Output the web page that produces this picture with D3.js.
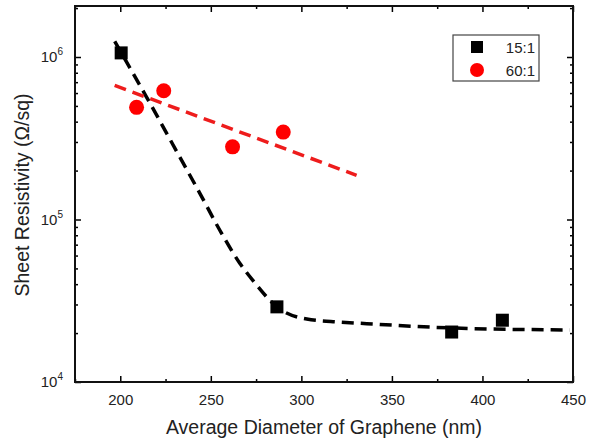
<!DOCTYPE html>
<html>
<head>
<meta charset="utf-8">
<script src="https://cdn.jsdelivr.net/npm/d3@7"></script>
<style>
  body { margin: 0; background: #fff; }
  svg { font-family: "Liberation Sans", Arial, sans-serif; }
</style>
</head>
<body>
<svg id="drawing_region"></svg>
<script>
// measured points
const diam_15 = [200.5, 286.5, 383, 411];
const res_15 = [1.06e6, 2.9e4, 2.03e4, 2.4e4];
const diam_60 = [209, 224, 262, 290];
const res_60 = [4.9e5, 6.2e5, 2.8e5, 3.45e5];

// guide curves
const fit15_x = [196.9, 214.5, 232.8, 243.8, 254.9, 265.9, 273.1, 286.5, 303, 321.2, 340.5, 383, 448.2];
const fit15_y = [1.25e6, 5.67e5, 2.43e5, 1.46e5, 8.62e4, 5.4e4, 4.24e4, 2.9e4, 2.44e4, 2.34e4, 2.27e4, 2.15e4, 2.09e4];
const fit60_x = [196.9, 330.5];
const fit60_y = [6.68e5, 1.87e5];

const x_ticks = [200, 250, 300, 350, 400, 450];
const y_ticks = [1e4, 1e5, 1e6];

const config = {
    width: 596,
    height: 440,
    margin: {top: 6, right: 23, bottom: 58, left: 75}
};

const svg = d3.select('#drawing_region')
    .attr('width', config.width)
    .attr('height', config.height);

const inner_width = config.width - config.margin.left - config.margin.right;
const inner_height = config.height - config.margin.top - config.margin.bottom;

const chart = svg.append('g')
    .attr('transform', `translate(${config.margin.left}, ${config.margin.top})`);

const xscale = d3.scaleLinear().domain([175, 450]).range([0, inner_width]);
const yscale = d3.scaleLog().domain([1e4, 2.06e6]).range([inner_height, 0]);

// minor ticks
const x_minor = d3.range(175, 451, 25).filter(v => x_ticks.indexOf(v) < 0);
const y_minor = [];
[1e4, 1e5, 1e6].forEach(d => { for (let k = 2; k <= 9; k++) if (d * k <= 2.06e6) y_minor.push(d * k); });

const tick_major = 6, tick_minor = 3;

// bottom axis
const xaxis = d3.axisBottom(xscale).tickValues(x_ticks).tickSize(-tick_major).tickPadding(12).tickSizeOuter(0);
const xaxis_group = chart.append('g').attr('transform', `translate(0, ${inner_height})`).call(xaxis);
chart.append('g').attr('transform', `translate(0, ${inner_height})`)
    .call(d3.axisBottom(xscale).tickValues(x_minor).tickSize(-tick_minor).tickFormat('').tickSizeOuter(0));
// top axis
chart.append('g').call(d3.axisTop(xscale).tickValues(x_ticks).tickSize(-tick_major).tickFormat('').tickSizeOuter(0));
chart.append('g').call(d3.axisTop(xscale).tickValues(x_minor).tickSize(-tick_minor).tickFormat('').tickSizeOuter(0));

// left axis
chart.append('g')
    .call(d3.axisLeft(yscale).tickValues(y_ticks).tickSize(-tick_major).tickFormat('').tickSizeOuter(0));
chart.append('g').call(d3.axisLeft(yscale).tickValues(y_minor).tickSize(-tick_minor).tickFormat('').tickSizeOuter(0));
// right axis
chart.append('g').attr('transform', `translate(${inner_width}, 0)`)
    .call(d3.axisRight(yscale).tickValues(y_ticks).tickSize(-tick_major).tickFormat('').tickSizeOuter(0));
chart.append('g').attr('transform', `translate(${inner_width}, 0)`)
    .call(d3.axisRight(yscale).tickValues(y_minor).tickSize(-tick_minor).tickFormat('').tickSizeOuter(0));

chart.selectAll('.domain').remove();
chart.selectAll('.tick line').attr('stroke', '#000').attr('stroke-width', 1.5);

// frame
chart.append('rect')
    .attr('width', inner_width).attr('height', inner_height)
    .attr('fill', 'none').attr('stroke', '#111').attr('stroke-width', 2);

xaxis_group.selectAll('text')
    .attr('font-size', 15).attr('fill', '#222')
    .attr('font-family', '"Liberation Sans", Arial, sans-serif');

// y labels 10^n
chart.append('g').selectAll('text')
    .data(y_ticks)
    .join('text')
    .attr('x', -12)
    .attr('y', d => yscale(d) + 5)
    .attr('text-anchor', 'end')
    .attr('font-size', 15)
    .attr('fill', '#222')
    .each(function(d) {
        const t = d3.select(this);
        t.append('tspan').text('10');
        t.append('tspan').attr('dy', -7).attr('font-size', 10).text(Math.round(Math.log10(d)));
    });

// axis titles
svg.append('text')
    .attr('x', 324)
    .attr('y', 434)
    .attr('text-anchor', 'middle')
    .attr('font-size', 19.5)
    .attr('fill', '#222')
    .text('Average Diameter of Graphene (nm)');

svg.append('text')
    .attr('transform', 'translate(29, 195) rotate(-90)')
    .attr('text-anchor', 'middle')
    .attr('font-size', 19.5)
    .attr('fill', '#222')
    .text('Sheet Resistivity (\u03A9/sq)');

// guide lines
const fit15 = fit15_x.map((v, i) => [v, fit15_y[i]]);
const fit60 = fit60_x.map((v, i) => [v, fit60_y[i]]);
const line = d3.line()
    .x(d => xscale(d[0]))
    .y(d => yscale(d[1]))
    .curve(d3.curveMonotoneX);

chart.append('path')
    .datum(fit15)
    .attr('d', line)
    .attr('fill', 'none')
    .attr('stroke', '#000')
    .attr('stroke-width', 3.5)
    .attr('stroke-dasharray', '12,7');

chart.append('path')
    .datum(fit60)
    .attr('d', line)
    .attr('fill', 'none')
    .attr('stroke', '#ee1c1c')
    .attr('stroke-width', 3.5)
    .attr('stroke-dasharray', '12,7');

// markers
const sq = 13;
chart.selectAll('rect.pt')
    .data(diam_15.map((v, i) => [v, res_15[i]]))
    .join('rect')
    .attr('class', 'pt')
    .attr('x', d => xscale(d[0]) - sq / 2)
    .attr('y', d => yscale(d[1]) - sq / 2)
    .attr('width', sq).attr('height', sq)
    .attr('fill', '#000');

chart.selectAll('circle.pt')
    .data(diam_60.map((v, i) => [v, res_60[i]]))
    .join('circle')
    .attr('class', 'pt')
    .attr('cx', d => xscale(d[0]))
    .attr('cy', d => yscale(d[1]))
    .attr('r', 7.5)
    .attr('fill', '#ff0000');

// legend
const legend = svg.append('g').attr('transform', 'translate(453, 35)');
legend.append('rect')
    .attr('width', 86).attr('height', 46)
    .attr('fill', '#fff').attr('stroke', '#444').attr('stroke-width', 1.2);
legend.append('rect')
    .attr('x', 18).attr('y', 6).attr('width', 12).attr('height', 12).attr('fill', '#000');
legend.append('circle')
    .attr('cx', 24).attr('cy', 35).attr('r', 7).attr('fill', '#ff0000');
legend.append('text').attr('x', 82).attr('y', 18).attr('text-anchor', 'end')
    .attr('font-size', 15).attr('fill', '#222').text('15:1');
legend.append('text').attr('x', 82).attr('y', 41).attr('text-anchor', 'end')
    .attr('font-size', 15).attr('fill', '#222').text('60:1');
</script>
</body>
</html>
